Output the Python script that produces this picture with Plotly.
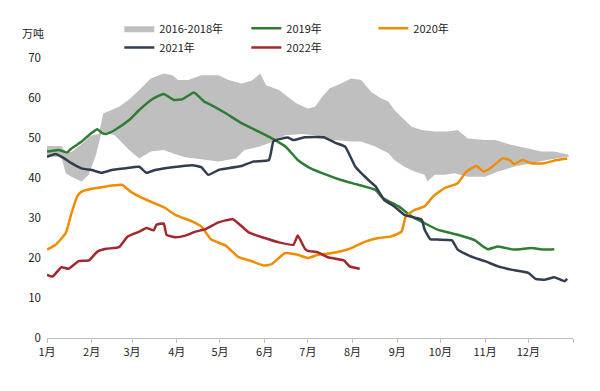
import plotly.graph_objects as go

YEAR = "2022-"

# 2016-2018 range band (upper / lower edges)
band_upper_dates = ["01-01","01-11","01-14","01-18","01-25","01-31","02-06","02-09","02-20","02-27","03-06","03-14","03-23","03-29","04-02","04-09","04-18","04-30","05-07","05-16","05-23","05-29","06-02","06-11","06-17","06-23","07-01","07-06","07-11","07-16","07-24","07-31","08-07","08-14","08-21","08-26","08-30","09-06","09-11","09-18","09-27","10-06","10-13","10-20","11-01","11-08","11-19","12-01","12-10","12-19","12-29"]
band_upper = [48.0,48.0,46.5,46.5,48.5,50.5,51.0,56.1,57.8,59.6,62.0,64.9,66.1,65.7,64.5,64.5,65.7,65.7,64.5,63.6,64.3,66.1,63.2,62.0,60.3,58.7,57.4,57.8,60.3,62.4,63.6,64.9,64.5,61.5,59.9,59.1,57.0,54.5,52.8,52.0,51.6,51.6,52.0,49.9,49.5,49.5,48.3,47.4,46.6,46.6,45.8]
band_lower_dates = ["01-01","01-11","01-14","01-18","01-25","01-30","02-04","02-08","02-17","02-27","03-06","03-14","03-23","03-29","04-07","04-21","04-30","05-12","05-18","05-28","06-01","06-07","06-15","06-27","07-06","07-13","07-20","07-31","08-07","08-17","08-26","08-30","09-06","09-13","09-20","09-22","09-27","10-04","10-11","10-20","11-01","11-10","11-21","12-03","12-14","12-26","12-29"]
band_lower = [45.3,45.3,41.2,40.3,39.1,40.8,45.8,51.6,50.7,47.0,44.9,46.6,47.0,46.2,45.2,44.5,44.1,44.9,47.0,47.8,48.3,49.1,50.7,51.0,50.7,49.7,49.5,49.1,49.1,47.8,46.2,44.5,42.8,41.6,40.8,39.1,40.8,40.8,41.2,40.3,40.3,41.6,42.8,43.7,44.5,45.2,45.3]

y2019_dates = ["01-01","01-09","01-15","01-18","01-25","01-31","02-05","02-08","02-11","02-17","02-27","03-06","03-15","03-23","03-30","04-05","04-13","04-20","04-23","05-05","05-16","05-28","06-07","06-16","06-24","07-01","07-11","07-24","08-05","08-17","08-22","09-02","09-11","09-20","09-29","10-13","10-25","10-29","11-03","11-10","11-21","12-03","12-12","12-19"]
y2019 = [46.6,47.0,46.4,47.4,49.1,51.0,52.2,51.3,51.0,52.0,54.5,57.0,59.7,61.0,59.5,59.7,61.4,59.1,58.6,56.2,53.7,51.6,49.7,47.7,44.5,42.8,41.2,39.5,38.3,37.0,35.0,32.9,30.4,28.7,27.1,25.8,24.4,23.3,22.2,22.9,22.1,22.5,22.1,22.2]

y2020_dates = ["01-01","01-07","01-14","01-18","01-22","01-25","02-01","02-11","02-22","02-28","03-06","03-15","03-24","03-31","04-12","04-18","04-25","05-05","05-14","05-23","06-01","06-06","06-15","06-24","07-01","07-08","07-17","07-29","08-10","08-19","08-28","09-04","09-07","09-13","09-20","09-26","10-04","10-13","10-19","10-26","10-31","11-06","11-13","11-18","11-21","11-27","12-03","12-12","12-21","12-28"]
y2020 = [22.1,23.3,26.2,31.2,35.4,36.6,37.3,37.9,38.3,36.6,35.4,33.9,32.5,30.8,29.1,27.9,24.6,23.1,20.2,19.2,18.1,18.5,21.2,20.8,20.0,20.8,21.2,22.2,24.1,25.0,25.4,26.6,30.4,32.0,32.9,35.4,37.5,38.7,41.6,43.0,41.6,42.8,44.9,44.5,43.5,44.5,43.7,43.7,44.5,44.9]

y2021_dates = ["01-01","01-07","01-13","01-18","01-25","02-01","02-08","02-15","02-24","03-06","03-11","03-17","03-29","04-12","04-18","04-23","04-30","05-02","05-16","05-24","06-04","06-07","06-09","06-17","06-21","06-29","07-12","07-20","07-27","08-03","08-12","08-17","08-23","08-30","09-06","09-13","09-18","09-20","09-24","09-29","10-09","10-13","10-22","11-01","11-10","11-19","12-01","12-06","12-13","12-19","12-26","12-28"]
y2021 = [45.3,46.0,44.9,43.7,42.4,42.0,41.3,42.0,42.4,42.8,41.3,42.0,42.7,43.2,42.7,40.8,42.0,42.2,43.0,44.1,44.5,49.1,49.5,50.1,49.5,50.2,50.2,48.8,47.8,42.8,39.5,37.9,34.5,32.9,30.8,30.1,29.6,27.1,24.7,24.6,24.4,22.1,20.4,19.2,17.9,17.1,16.3,14.8,14.6,15.2,14.2,14.8]

y2022_dates = ["01-01","01-05","01-11","01-16","01-23","01-30","02-05","02-11","02-20","02-26","03-06","03-11","03-16","03-18","03-23","03-25","03-31","04-07","04-14","04-21","04-30","05-10","05-21","06-01","06-11","06-21","06-24","06-29","07-01","07-08","07-15","07-26","07-30","08-06"]
y2022 = [15.8,15.4,17.7,17.3,19.2,19.4,21.6,22.3,22.7,25.4,26.6,27.5,26.9,28.3,28.6,25.8,25.2,25.6,26.6,27.2,28.9,29.7,26.4,25.0,23.9,23.3,25.6,22.3,21.8,21.4,20.2,19.4,17.9,17.3]

month_ticks = ["01-01","02-01","03-01","04-01","05-01","06-01","07-01","08-01","09-01","10-01","11-01","12-01"]
month_labels = ["1月","2月","3月","4月","5月","6月","7月","8月","9月","10月","11月","12月"]

def d(lst):
    return [YEAR + s for s in lst]

FONT = "Noto Sans CJK SC"

fig = go.Figure()
fig.add_trace(go.Scatter(
    x=d(band_upper_dates) + d(band_lower_dates)[::-1],
    y=band_upper + band_lower[::-1],
    fill="toself", fillcolor="#bfbfbf", mode="lines",
    line=dict(width=0, color="#bfbfbf"), name="2016-2018年", hoverinfo="skip",
    legend="legend"))

series = [
    ("2019年", y2019_dates, y2019, "#2e7d32", "legend"),
    ("2020年", y2020_dates, y2020, "#f08c00", "legend"),
    ("2021年", y2021_dates, y2021, "#323e4f", "legend2"),
    ("2022年", y2022_dates, y2022, "#a3282d", "legend2"),
]
for name, dates, vals, col, lg in series:
    fig.add_trace(go.Scatter(x=d(dates), y=vals, mode="lines", name=name, legend=lg,
                             line=dict(color=col, width=2.5, shape="spline", smoothing=0.4)))

legend_common = dict(orientation="h", xanchor="left", yanchor="top", yref="container",
                     entrywidth=82, entrywidthmode="pixels",
                     font=dict(size=11, color="#222"), traceorder="normal",
                     itemwidth=30, bgcolor="rgba(0,0,0,0)")

fig.update_layout(
    width=600, height=391,
    margin=dict(l=39, r=35, t=50, b=61, autoexpand=False),
    paper_bgcolor="white", plot_bgcolor="white",
    font=dict(family=FONT, size=11, color="#222"),
    showlegend=True,
    legend=dict(x=0.1375, y=0.985, **legend_common),
    legend2=dict(x=0.1375, y=0.936, **legend_common),
    xaxis=dict(type="date", range=["2022-01-01", "2023-01-01"],
               tickvals=d(month_ticks) + ["2023-01-01"], ticktext=month_labels + [""],
               showline=True, linecolor="#bfbfbf", linewidth=1,
               ticks="outside", ticklen=4, tickcolor="#bfbfbf",
               showgrid=False, zeroline=False, tickfont=dict(size=11, color="#222")),
    yaxis=dict(range=[0, 70], dtick=10, tick0=0, showgrid=False, zeroline=False,
               showline=False, ticks="", ticklabelstandoff=5,
               tickfont=dict(size=11.5, color="#222")),
)
fig.add_annotation(text="万吨", xref="paper", yref="paper", x=-0.002, y=1.089,
                   xanchor="right", yanchor="middle", showarrow=False,
                   font=dict(size=11, color="#222"))

fig.write_html("out.html")
